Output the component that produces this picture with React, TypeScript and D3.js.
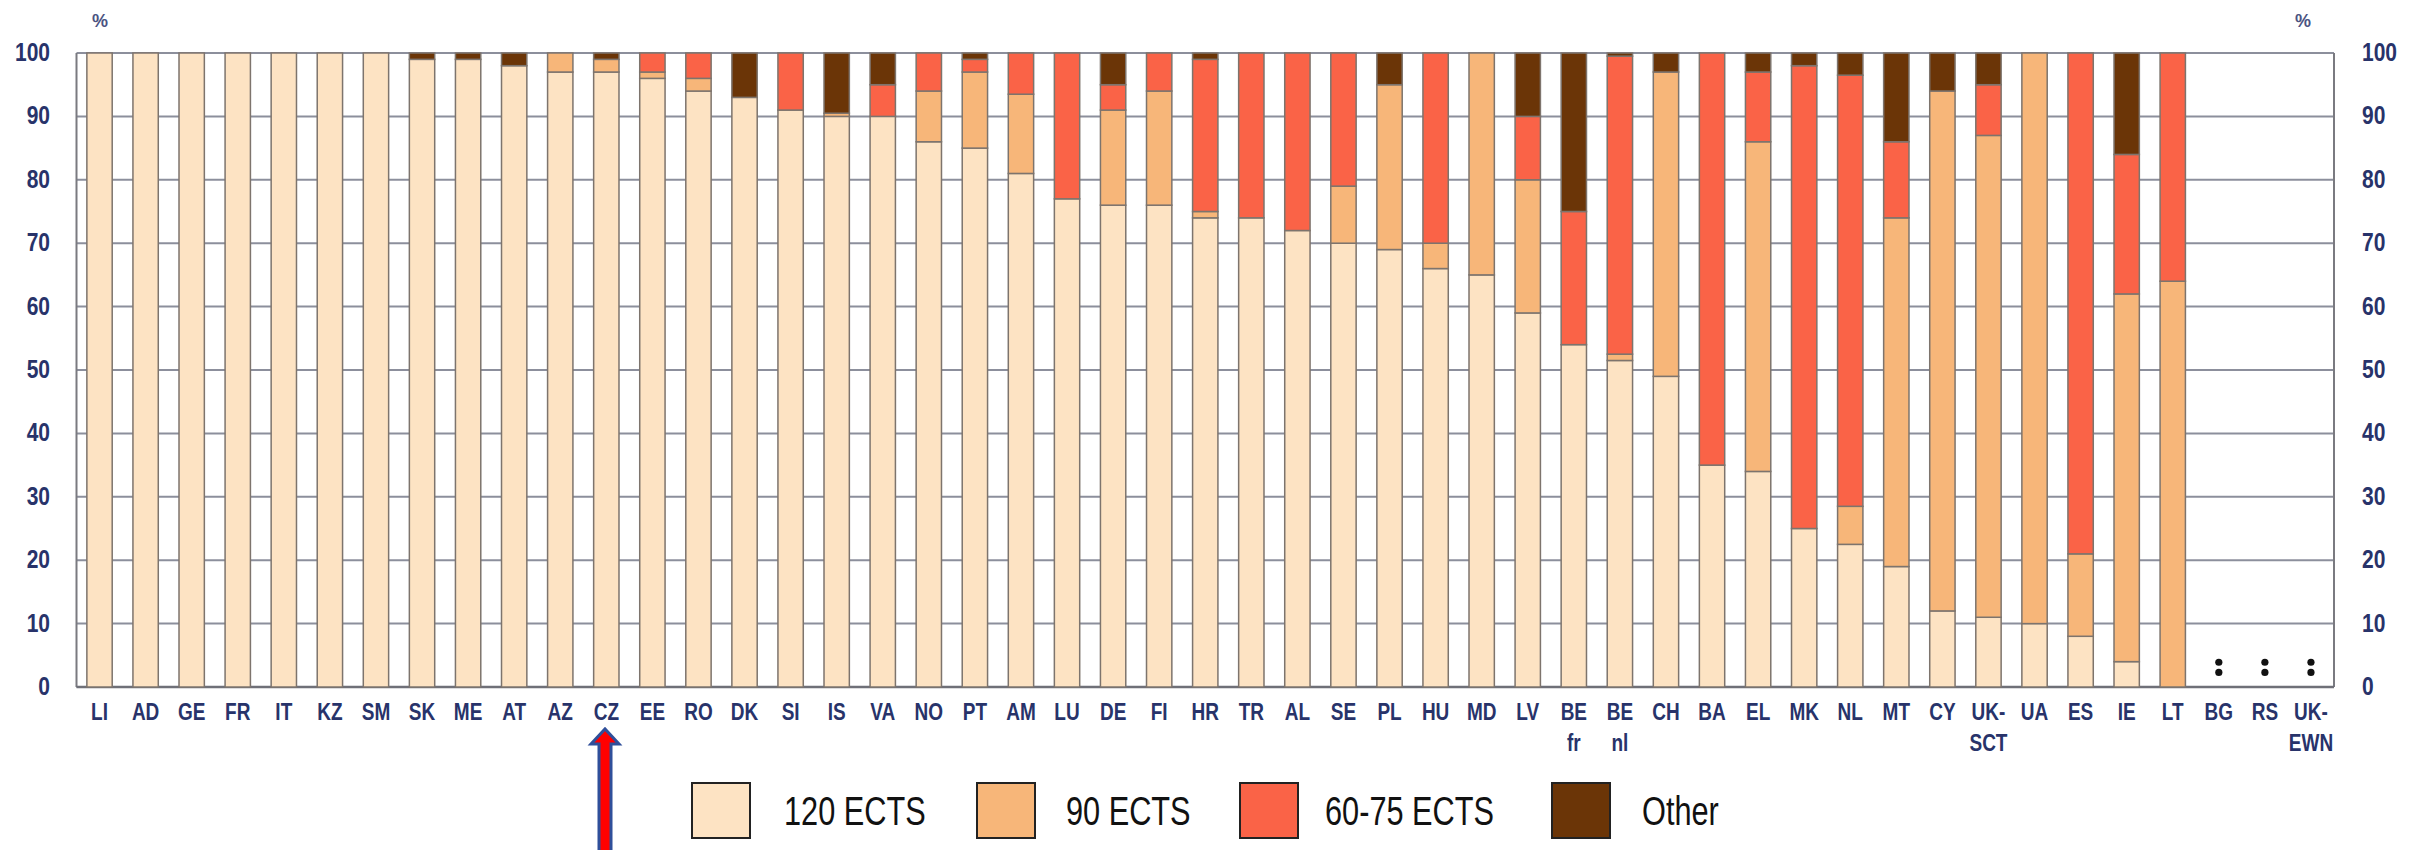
import React from "react";
import * as d3 from "d3";

const categories = ["LI","AD","GE","FR","IT","KZ","SM","SK","ME","AT","AZ","CZ","EE","RO","DK","SI","IS","VA","NO","PT","AM","LU","DE","FI","HR","TR","AL","SE","PL","HU","MD","LV","BE fr","BE nl","CH","BA","EL","MK","NL","MT","CY","UK-SCT","UA","ES","IE","LT","BG","RS","UK-EWN"];

const ects120 = [100,100,100,100,100,100,100,99,99,98,97,97,96,94,93,91,90,90,86,85,81,77,76,76,74,74,72,70,69,66,65,59,54,51.5,49,35,34,25,22.5,19,12,11,10,8,4,0,0,0,0];
const ects90 = [0,0,0,0,0,0,0,0,0,0,3,2,1,2,0,0,0.5,0,8,12,12.5,0,15,18,1,0,0,9,26,4,35,21,0,1,48,0,52,0,6,55,82,76,90,13,58,64,0,0,0];
const ects6075 = [0,0,0,0,0,0,0,0,0,0,0,0,3,4,0,9,0,5,6,2,6.5,23,4,6,24,26,28,21,0,30,0,10,21,47,0,65,11,73,68,12,0,8,0,79,22,36,0,0,0];
const other = [0,0,0,0,0,0,0,1,1,2,0,1,0,0,7,0,9.5,5,0,1,0,0,5,0,1,0,0,0,5,0,0,10,25,0.5,3,0,3,2,3.5,14,6,5,0,0,16,0,0,0,0];
const noData = ["BG","RS","UK-EWN"];

const seriesKeys = ["120 ECTS","90 ECTS","60-75 ECTS","Other"];
const seriesColors = ["#FDE3C3","#F7B679","#FA6347","#6B3507"];
const yTicks = [0,10,20,30,40,50,60,70,80,90,100];

const W = 2428, H = 850;
const X0 = 76.5, X1 = 2334, Y0 = 687, Y1 = 53;
const NAVY = "#28336a";
const FONT = "'Liberation Sans', Arial, Helvetica, sans-serif";

function labelLines(c: string): string[] {
  if (c.startsWith("BE ")) return ["BE", c.slice(3)];
  if (c.startsWith("UK-")) return ["UK-", c.slice(3)];
  return [c];
}

export default function App() {
  const x = d3.scaleBand<string>().domain(categories).range([X0, X1]).paddingInner(0.45).paddingOuter(0.225);
  const y = d3.scaleLinear().domain([0, 100]).range([Y0, Y1]);

  const rows = categories.map((c, i) => ({
    cat: c,
    "120 ECTS": ects120[i],
    "90 ECTS": ects90[i],
    "60-75 ECTS": ects6075[i],
    "Other": other[i],
  }));
  const stacked = d3.stack<any>().keys(seriesKeys)(rows);

  const bw = x.bandwidth();
  const legendX = [692, 977, 1240, 1552];
  const legendTextX = [784, 1066, 1325, 1642];

  const arrowCx = 605;
  const arrowPath = `M${arrowCx - 6},850 L${arrowCx - 6},744 L${arrowCx - 14},744 L${arrowCx},729 L${arrowCx + 14},744 L${arrowCx + 6},744 L${arrowCx + 6},850`;

  return (
    <svg width={W} height={H} style={{ position: "absolute", left: 0, top: 0, background: "#fff" }} fontFamily={FONT}>
      <rect x={0} y={0} width={W} height={H} fill="#fff" />
      {/* gridlines */}
      {yTicks.map((t) => (
        <line key={"g" + t} x1={X0} x2={X1} y1={y(t)} y2={y(t)} stroke="#8c8f9c" strokeWidth={2} />
      ))}
      {/* axes frame */}
      <line x1={X0} x2={X0} y1={Y1} y2={Y0} stroke="#7a7a80" strokeWidth={2} />
      <line x1={X1} x2={X1} y1={Y1} y2={Y0} stroke="#7a7a80" strokeWidth={2} />
      <line x1={X0} x2={X1} y1={Y0} y2={Y0} stroke="#6f7078" strokeWidth={2.5} />

      {/* bars */}
      {stacked.map((s, si) => (
        <g key={s.key} fill={seriesColors[si]}>
          {s.map((d: any, i: number) => {
            const h = y(d[0]) - y(d[1]);
            if (h <= 0.01) return null;
            return (
              <rect key={i} x={x(categories[i])} y={y(d[1])} width={bw} height={h} stroke="#7d746d" strokeWidth={1.5} />
            );
          })}
        </g>
      ))}

      {/* no data marks */}
      {noData.map((c) => {
        const cx = (x(c) as number) + bw / 2;
        return (
          <g key={"nd" + c} fill="#111">
            <circle cx={cx} cy={y(3.9)} r={3.6} />
            <circle cx={cx} cy={y(2.3)} r={3.6} />
          </g>
        );
      })}

      {/* y tick labels */}
      {yTicks.map((t) => (
        <g key={"yl" + t}>
          <text transform={`translate(50,${y(t) + 8}) scale(1,1.2)`} textAnchor="end" fontSize={21} fontWeight="bold" fill={NAVY}>{t}</text>
          <text transform={`translate(2362,${y(t) + 8}) scale(1,1.2)`} textAnchor="start" fontSize={21} fontWeight="bold" fill={NAVY}>{t}</text>
        </g>
      ))}
      <text x={100} y={27} textAnchor="middle" fontSize={18} fontWeight="bold" fill="#4b5382">%</text>
      <text x={2303} y={27} textAnchor="middle" fontSize={18} fontWeight="bold" fill="#4b5382">%</text>

      {/* x labels */}
      {categories.map((c) => {
        const cx = (x(c) as number) + bw / 2;
        const lines = labelLines(c);
        return (
          <g key={"xl" + c}>
            {lines.map((ln, li) => (
              <text key={li} transform={`translate(${cx},${720 + li * 31}) scale(1,1.22)`} textAnchor="middle" fontSize={19} fontWeight="bold" fill={NAVY}>{ln}</text>
            ))}
          </g>
        );
      })}

      {/* legend */}
      {seriesKeys.map((k, i) => (
        <g key={"lg" + k}>
          <rect x={legendX[i]} y={783} width={58} height={55} fill={seriesColors[i]} stroke="#222" strokeWidth={2} />
          <text transform={`translate(${legendTextX[i]},825) scale(0.96,1.25)`} fontSize={32} fill="#111">{k}</text>
        </g>
      ))}

      {/* arrow */}
      <path d={arrowPath} fill="#ff0000" stroke="#2f4f9a" strokeWidth={3} strokeLinejoin="miter" />
    </svg>
  );
}
